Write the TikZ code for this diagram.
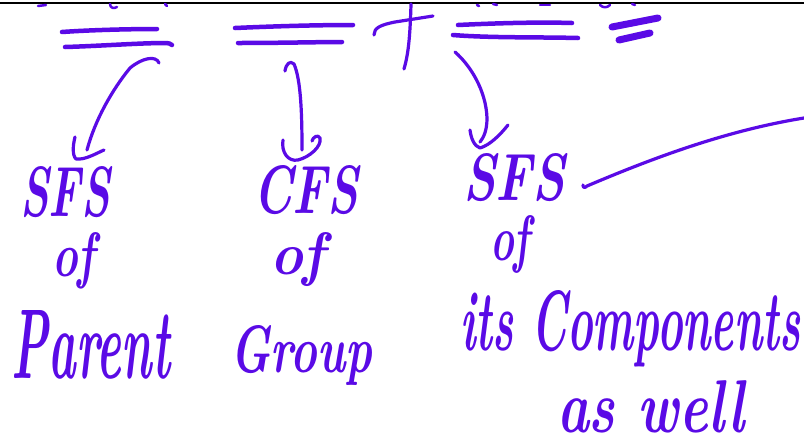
\documentclass[tikz,border=0pt]{standalone}
\usepackage{graphicx}
\definecolor{ink}{HTML}{5A0AE6}
\tikzset{
  pen/.style={draw=ink, line width=3.2pt, line cap=round, line join=round},
  barpen/.style={pen, line width=4.5pt},
  fatpen/.style={pen, line width=7pt},
  hand/.style={inner sep=0pt, outer sep=0pt, anchor=base west, text=ink},
  frag/.style={pen, line width=2.5pt}
}
\newcommand{\hwtext}[3]{\resizebox{#1}{#2}{\bfseries\itshape #3}}
\begin{document}
\begin{tikzpicture}[x=1pt,y=-1pt]
\useasboundingbox (0,0) rectangle (804,445);
\fill[white] (0,0) rectangle (804,445);
% top rule
\draw[line width=2.6pt, black] (0,3) -- (804,3);
% cut-off fragments of the line above
\draw[frag] (38,6) -- (46,5);
\draw[frag] (110,4) .. controls (110,8) and (114,9) .. (117,7);
\draw[frag] (165,4) -- (167,6);
\draw[frag] (477,5) -- (479,6);
\draw[frag] (493,4) -- (497,5);
\draw[frag] (540,5) -- (550,5);
\draw[frag] (600,5) .. controls (603,8) and (607,8) .. (610,5);
\draw[frag] (632,4) -- (635,5);
% double underlines
\draw[barpen] (62,32) .. controls (90,30) and (130,29) .. (157,29);
\draw[barpen] (65,47) .. controls (100,46) and (140,43) .. (165,43) .. controls (169,43) and (171,44) .. (172,45);
\draw[barpen] (235,28) .. controls (280,26) and (320,25) .. (353,25);
\draw[barpen] (238,43) .. controls (280,43) and (320,42) .. (342,42);
% plus sign
\draw[pen] (411,4) .. controls (410,40) and (408,55) .. (404,69);
\draw[pen] (374,35) .. controls (374,28) and (380,25) .. (395,22) -- (433,16);
\draw[barpen] (458,25) .. controls (500,23) and (540,22) .. (572,23);
\draw[barpen] (453,35) .. controls (490,38) and (540,37) .. (578,38);
% equals sign
\draw[fatpen] (612,27) -- (658,18);
\draw[fatpen] (619,40) -- (650,33);
% arrow 1
\coordinate (a1s) at (159,63);
\coordinate (a1e) at (87,150);
\draw[pen] (a1s) .. controls (156,55) and (142,58) .. (130,68) .. controls (112,90) and (95,120) .. (a1e);
\draw[pen] (75,137) .. controls (73,145) and (72,155) .. (76,159) .. controls (85,160) and (95,154) .. (104,150);
% arrow 2
\coordinate (a2s) at (285,71);
\coordinate (a2e) at (302,150);
\draw[pen] (a2s) .. controls (286,64) and (290,60) .. (294,64) .. controls (301,80) and (302,115) .. (a2e);
\draw[pen] (283,140) .. controls (281,152) and (288,162) .. (298,160) .. controls (310,157) and (322,146) .. (320,138) .. controls (318,134) and (313,137) .. (312,141);
% arrow 3
\coordinate (a3s) at (455,52);
\coordinate (a3e) at (480,142);
\draw[pen] (a3s) .. controls (470,65) and (486,90) .. (487,118) .. controls (487,130) and (484,137) .. (a3e);
\draw[pen] (470,130) .. controls (471,138) and (474,146) .. (480,148) .. controls (490,145) and (500,135) .. (508,125);
% column 1
\node[hand] (sfs1) at (20,216) {\hwtext{90pt}{50pt}{SFS}};
\node[hand] (of1) at (52,276) {\hwtext{43pt}{44pt}{of}};
\node[hand] (parent) at (12,378) {\hwtext{158pt}{68pt}{Parent}};
% column 2
\node[hand] (cfs) at (253,213) {\hwtext{105pt}{48pt}{CFS}};
\node[hand] (of2) at (270,274) {\hwtext{55pt}{42pt}{of}};
\node[hand] (group) at (230,372) {\hwtext{142pt}{47pt}{Group}};
% column 3
\node[hand] (sfs3) at (463,200) {\hwtext{102pt}{47pt}{SFS}};
\node[hand] (of3) at (490,260) {\hwtext{40pt}{45pt}{of}};
\node[hand] (comp) at (460,350) {\hwtext{340pt}{60pt}{its Components}};
\node[hand] (aswell) at (557,432) {\hwtext{188pt}{52pt}{as well}};
% long stroke to the right
\coordinate (lend) at (804,118);
\draw[pen] (583,185) .. controls (583,188) and (585,188) .. (587,186) .. controls (660,155) and (730,130) .. (lend);
\end{tikzpicture}
\end{document}
